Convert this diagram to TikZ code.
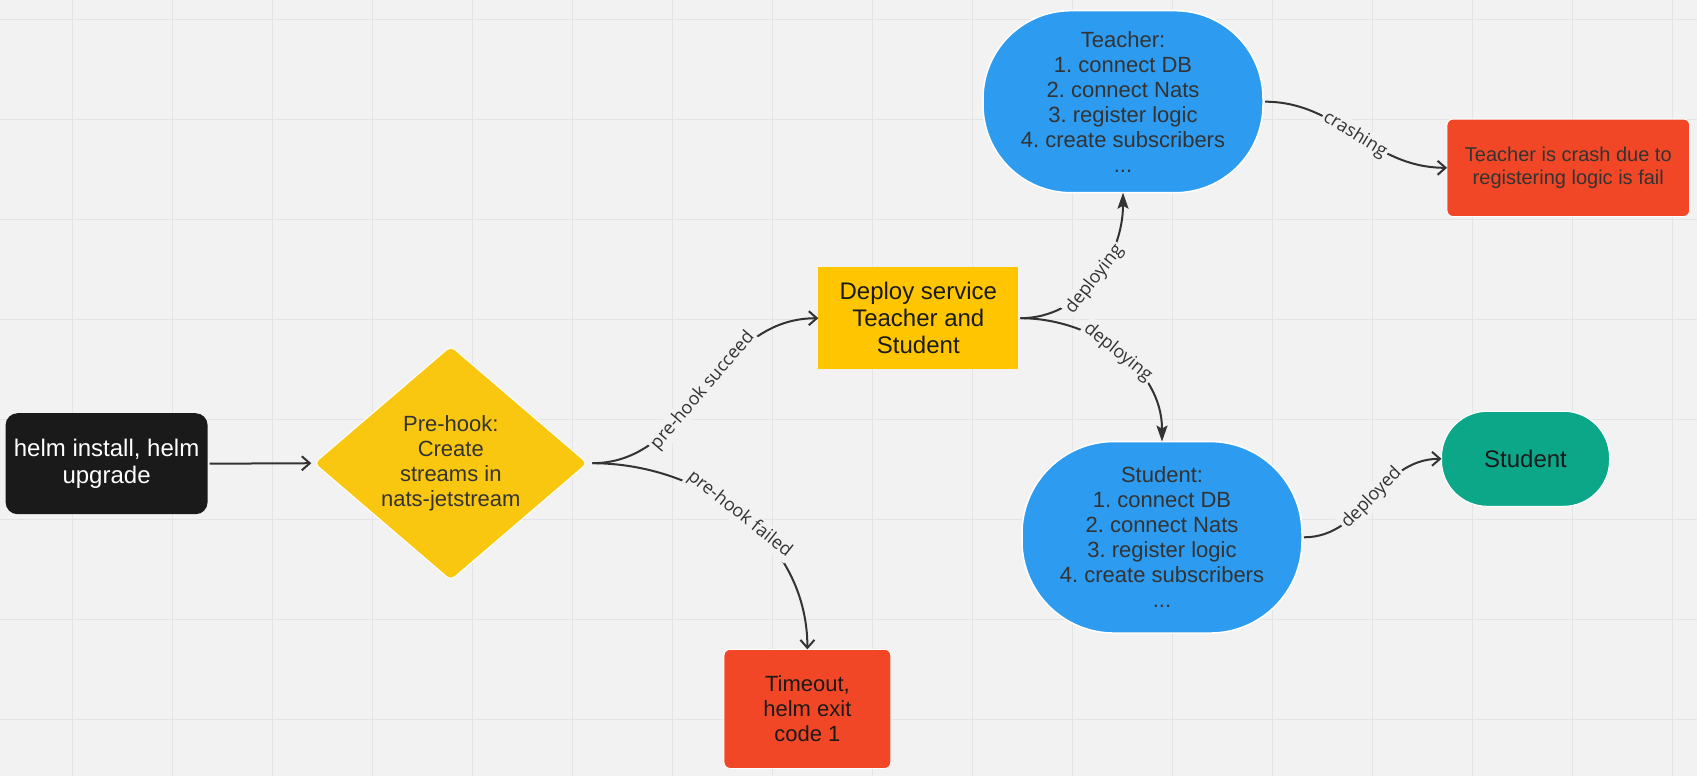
\documentclass[tikz,border=0pt]{standalone}
\usepackage{fontspec}
\setmainfont{Liberation Sans}
\newfontfamily\labfont{Open Sans}
\usetikzlibrary{arrows.meta,shapes.geometric}
\definecolor{bg}{HTML}{F2F2F2}
\definecolor{gridc}{HTML}{E4E4E4}
\definecolor{edgec}{HTML}{333333}
\definecolor{blk}{HTML}{1A1A1A}
\definecolor{yel}{HTML}{FAC710}
\definecolor{amb}{HTML}{FFC600}
\definecolor{blu}{HTML}{2D9BF0}
\definecolor{redc}{HTML}{F24726}
\definecolor{grn}{HTML}{0CA789}
\definecolor{txt}{HTML}{333333}
\frenchspacing
\begin{document}
\begin{tikzpicture}[x=1pt,y=1pt,
  box/.style={align=center, inner sep=0pt, outer sep=0pt},
  fsA/.style={font=\fontsize{24}{27}\selectfont},
  fsB/.style={font=\fontsize{22}{25}\selectfont},
  fsC/.style={font=\fontsize{20}{23}\selectfont},
  conn/.style={draw=edgec, line width=2pt, shorten <=2pt},
  openhead/.style={-{Straight Barb[length=8pt,width=14pt]}},
  fillhead/.style={-{Stealth[length=16pt,width=11pt,inset=3pt]}},
  lbl/.style={font=\labfont\fontsize{18}{20}\selectfont, text=txt, fill=bg, inner sep=2pt, sloped, midway}
]
\fill[bg] (0,0) rectangle (1697,-776);
\useasboundingbox (0,0) rectangle (1697,-776);
\foreach \gx in {72.5,172.5,...,1672.5} \draw[gridc, line width=1pt] (\gx,0) -- (\gx,-776);
\foreach \gy in {19.3,119.3,...,719.3} \draw[gridc, line width=1pt] (0,-\gy) -- (1697,-\gy);

\node[box, fsA, fill=blk, text=white, rounded corners=12pt, minimum width=202pt, minimum height=101pt] (helm) at (106.6,-463.7) {helm install, helm\\upgrade};
\node[box, diamond, aspect=1.17, fill=yel, draw=white, line width=1pt, rounded corners=5pt, minimum width=273pt, minimum height=234pt, text=txt, fsB] (pre) at (450.8,-463.2) {Pre-hook:\\Create\\streams in\\nats-jetstream};
\node[box, fsA, fill=amb, text=blk, minimum width=200pt, minimum height=101.7pt] (dep) at (918.3,-318.2) {Deploy service\\Teacher and\\Student};
\node[box, fsB, fill=blu, draw=white, line width=1.5pt, text=txt, rounded corners=88pt, minimum width=280pt, minimum height=182pt] (tea) at (1123,-101.7) {Teacher:\\1. connect DB\\2. connect Nats\\3. register logic\\4. create subscribers\\...};
\node[box, fsB, fill=blu, draw=white, line width=1.5pt, text=txt, rounded corners=92pt, minimum width=280pt, minimum height=191.5pt] (stu) at (1162,-537.3) {Student:\\1. connect DB\\2. connect Nats\\3. register logic\\4. create subscribers\\...};
\node[box, fsA, fill=grn, draw=white, line width=1pt, text=blk, rounded corners=46pt, minimum width=168pt, minimum height=95pt] (grn) at (1525.5,-458.8) {Student};
\node[box, fsC, fill=redc, draw=white, line width=0.8pt, text=txt, rounded corners=6pt, minimum width=242.5pt, minimum height=97.4pt] (cra) at (1568.3,-167.8) {Teacher is crash due to\\registering logic is fail};
\node[box, fsB, fill=redc, draw=white, line width=0.8pt, text=blk, rounded corners=6pt, minimum width=166.7pt, minimum height=119pt] (tim) at (807.4,-708.9) {Timeout,\\helm exit\\code 1};

\draw[conn, openhead, shorten >=3pt] (helm.east) -- (pre.west);
\draw[conn, openhead, shorten <=5pt] (pre.east) to[out=0,in=180] node[lbl] {pre-hook succeed} (dep.west);
\draw[conn, openhead, shorten <=5pt] (pre.east) to[out=0,in=90] node[lbl] {pre-hook failed} (tim.north);
\draw[conn, fillhead] (dep.east) to[out=0,in=-90] node[lbl] {deploying} (tea.south);
\draw[conn, fillhead] (dep.east) to[out=0,in=90] node[lbl] {deploying} (stu.north);
\draw[conn, openhead] (tea.east) to[out=0,in=180] node[lbl] {crashing} (cra.west);
\draw[conn, openhead] (stu.east) to[out=0,in=180] node[lbl] {deployed} (grn.west);
\end{tikzpicture}
\end{document}
